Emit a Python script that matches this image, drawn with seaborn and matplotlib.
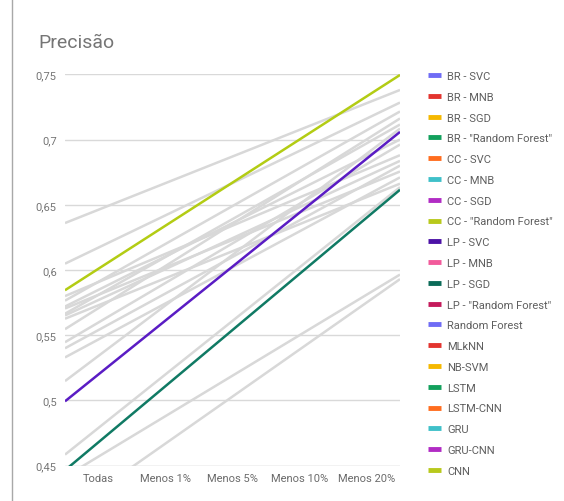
import matplotlib
matplotlib.use("Agg")
import matplotlib.pyplot as plt
from matplotlib.lines import Line2D
import numpy as np
import seaborn as sns

sns.set_style("white")
plt.rcParams["font.family"] = ["Roboto", "DejaVu Sans"]

categories = ["Todas", "Menos 1%", "Menos 5%", "Menos 10%", "Menos 20%"]

series_names = [
    "BR - SVC", "BR - MNB", "BR - SGD", 'BR - "Random Forest"',
    "CC - SVC", "CC - MNB", "CC - SGD", 'CC - "Random Forest"',
    "LP - SVC", "LP - MNB", "LP - SGD", 'LP - "Random Forest"',
    "Random Forest", "MLkNN", "NB-SVM", "LSTM", "LSTM-CNN",
    "GRU", "GRU-CNN", "CNN",
]

# precision per reduction level
br_svc = [0.591, 0.620, 0.649, 0.678, 0.707]
br_mnb = [0.457, 0.488, 0.519, 0.550, 0.581]
br_sgd = [0.581, 0.610, 0.639, 0.668, 0.697]
br_rf = [0.591, 0.612, 0.634, 0.656, 0.677]
cc_svc = [0.585, 0.610, 0.636, 0.662, 0.687]
cc_mnb = [0.431, 0.467, 0.503, 0.539, 0.575]
cc_sgd = [0.577, 0.601, 0.624, 0.648, 0.672]
cc_rf = [0.601, 0.634, 0.667, 0.700, 0.733]
lp_svc = [0.520, 0.561, 0.603, 0.644, 0.685]
lp_mnb = [0.479, 0.520, 0.561, 0.602, 0.643]
lp_sgd = [0.468, 0.511, 0.554, 0.597, 0.640]
lp_rf = [0.573, 0.594, 0.614, 0.635, 0.656]
random_forest = [0.581, 0.602, 0.623, 0.644, 0.665]
mlknn = [0.547, 0.574, 0.602, 0.630, 0.657]
nb_svm = [0.534, 0.573, 0.612, 0.650, 0.689]
lstm = [0.646, 0.667, 0.687, 0.707, 0.728]
lstm_cnn = [0.571, 0.603, 0.635, 0.668, 0.700]
gru = [0.617, 0.642, 0.667, 0.691, 0.716]
gru_cnn = [0.560, 0.590, 0.620, 0.651, 0.681]
cnn = [0.554, 0.582, 0.610, 0.638, 0.666]

series_values = [
    br_svc, br_mnb, br_sgd, br_rf, cc_svc, cc_mnb, cc_sgd, cc_rf,
    lp_svc, lp_mnb, lp_sgd, lp_rf, random_forest, mlknn, nb_svm,
    lstm, lstm_cnn, gru, gru_cnn, cnn,
]

legend_colors = [
    "#6f6cf5", "#e3342f", "#f5b800", "#12a05c",
    "#ff6d1f", "#3fc0c9", "#b12cc4", "#b8c91c",
    "#4c12a6", "#f25a9b", "#0b6b58", "#c41a5b",
    "#6f6cf5", "#e3342f", "#f5b800", "#12a05c",
    "#ff6d1f", "#3fc0c9", "#b12cc4", "#b8c91c",
]

# emphasised series and their trend colours
highlight = {
    'CC - "Random Forest"': "#b3cc14",
    "LP - SVC": "#5a1cc4",
    "LP - SGD": "#107a64",
}
muted = "#d8d8d8"

fig = plt.figure(figsize=(5.64, 5.02), dpi=100)
ax = fig.add_axes([65 / 564, 1 - 466.7 / 502, 335 / 564, (466.7 - 75.3) / 502])

xs = np.arange(len(categories))
ax.set_xlim(-0.5, len(categories) - 0.5)
ax.set_ylim(0.45, 0.75)

for name, vals in zip(series_names, series_values):
    col = highlight.get(name, muted)
    z = 4 if name in highlight else 2
    sns.regplot(x=xs, y=np.array(vals), ax=ax, scatter=False, ci=None,
                truncate=False,
                line_kws=dict(color=col, lw=1.8, zorder=z, solid_capstyle="butt"))

ax.set_xlim(-0.5, len(categories) - 0.5)
ax.set_ylim(0.45, 0.75)
ax.set_xlabel("")
ax.set_ylabel("")

yticks = [0.45, 0.5, 0.55, 0.6, 0.65, 0.7, 0.75]
ax.set_yticks(yticks)
ax.set_yticklabels([f"{t:g}".replace(".", ",") for t in yticks])
ax.set_xticks(xs)
ax.set_xticklabels(categories)
ax.tick_params(axis="y", length=0, pad=6, labelsize=8, labelcolor="#757575")
ax.tick_params(axis="x", length=0, pad=5, labelsize=8, labelcolor="#6b6b6b")

for t in yticks:
    ax.axhline(t, color="#bdbdbd" if t == 0.45 else "#d9d9d9", lw=1, zorder=1)
for s in ax.spines.values():
    s.set_visible(False)

fig.text(38 / 564, 1 - 43 / 502, "Precisão", fontsize=14, color="#757575",
         va="center", ha="left")

# panel border on the left
fig.add_artist(Line2D([12 / 564, 12 / 564], [0, 1], transform=fig.transFigure,
                      color="#a8a8a8", lw=1))

handles = [Line2D([0], [0], color=c, lw=3.5, solid_capstyle="butt") for c in legend_colors]
leg = fig.legend(handles, series_names, loc="upper left",
                 bbox_to_anchor=(428 / 564, 1 - 72 / 502), frameon=False,
                 fontsize=8, handlelength=1.15, handletextpad=0.55,
                 labelspacing=0.97, borderpad=0, borderaxespad=0)
for txt in leg.get_texts():
    txt.set_color("#5f5f5f")

fig.savefig("out.png", dpi=100)
